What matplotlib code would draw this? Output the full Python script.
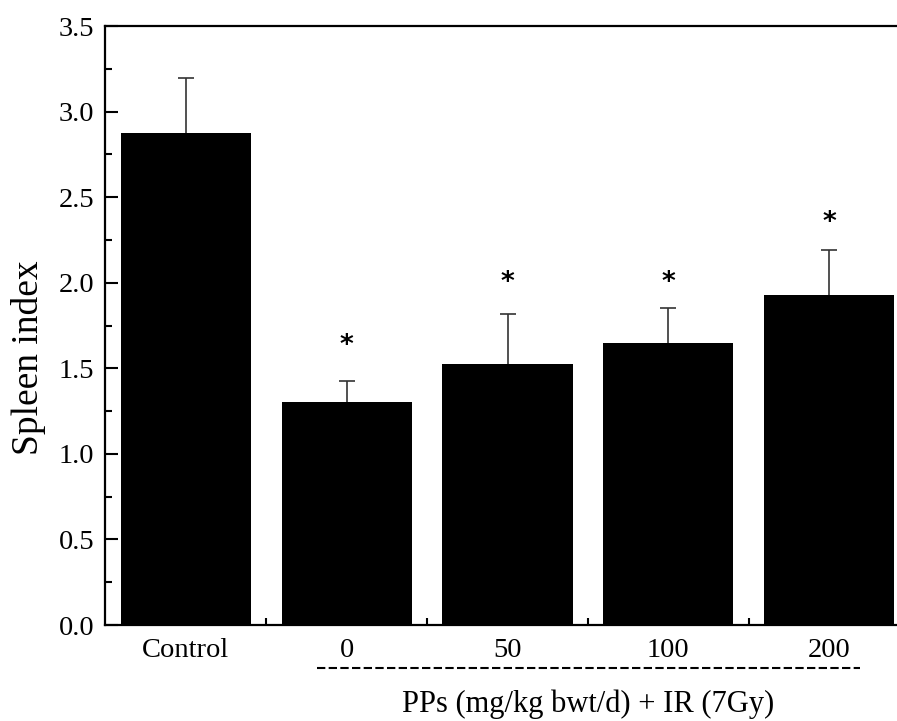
import matplotlib.pyplot as plt
from matplotlib.lines import Line2D

groups = ["Control", "0", "50", "100", "200"]
means = [2.875, 1.305, 1.527, 1.648, 1.929]
errors = [0.322, 0.121, 0.289, 0.205, 0.261]
stars = ["", "*", "*", "*", "*"]
star_y = [0, 1.63, 2.0, 2.0, 2.35]

plt.rcParams['font.family'] = ['Liberation Serif', 'DejaVu Serif']

fig = plt.figure(figsize=(8.97, 7.21), dpi=100)
ax = fig.add_axes([0.1176, 0.1331, 0.8964, 0.8308])

x = list(range(len(groups)))
ax.bar(x, means, width=0.81, color='black', zorder=2)
# symmetric bars drawn behind the columns so only the upper half shows
ax.errorbar(x, means, yerr=errors, fmt='none',
            ecolor='#333333', elinewidth=1.2, capsize=5.5, capthick=1.2, zorder=1)

for xi, s, sy in zip(x, stars, star_y):
    if s:
        ax.text(xi, sy, s, ha='center', va='center', fontsize=19,
                family='DejaVu Sans', fontweight='bold')

ax.set_xlim(-0.5, 4.5)
ax.set_ylim(0, 3.5)
ax.set_yticks([0.0, 0.5, 1.0, 1.5, 2.0, 2.5, 3.0, 3.5])
ax.set_yticklabels(["0.0", "0.5", "1.0", "1.5", "2.0", "2.5", "3.0", "3.5"])
ax.set_yticks([0.25, 0.75, 1.25, 1.75, 2.25, 2.75, 3.25], minor=True)
ax.set_xticks(x)
ax.set_xticklabels(groups)
ax.set_xticks([0.5, 1.5, 2.5, 3.5], minor=True)

ax.tick_params(axis='both', which='major', direction='in', labelsize=20.5)
ax.tick_params(axis='y', which='major', length=9.5, width=1.5, pad=8)
ax.tick_params(axis='y', which='minor', direction='in', length=5, width=1.5)
ax.tick_params(axis='x', which='major', length=0, pad=9)
ax.tick_params(axis='x', which='minor', direction='in', length=5, width=1.5)

for sp in ax.spines.values():
    sp.set_linewidth(1.6)

ax.set_ylabel("Spleen index", fontsize=27)
ax.yaxis.set_label_coords(-0.074, 0.446)

# dashed bracket under the treated groups
line = Line2D([317 / 897, 860 / 897], [1 - 668 / 721, 1 - 668 / 721],
              transform=fig.transFigure, color='black', linestyle=(0, (4, 1.6)),
              linewidth=1.5)
fig.add_artist(line)
fig.text(588 / 897, 1 - 704 / 721, "PPs (mg/kg bwt/d) + IR (7Gy)",
         ha='center', va='center', fontsize=22)

fig.savefig("out.png", dpi=100)
